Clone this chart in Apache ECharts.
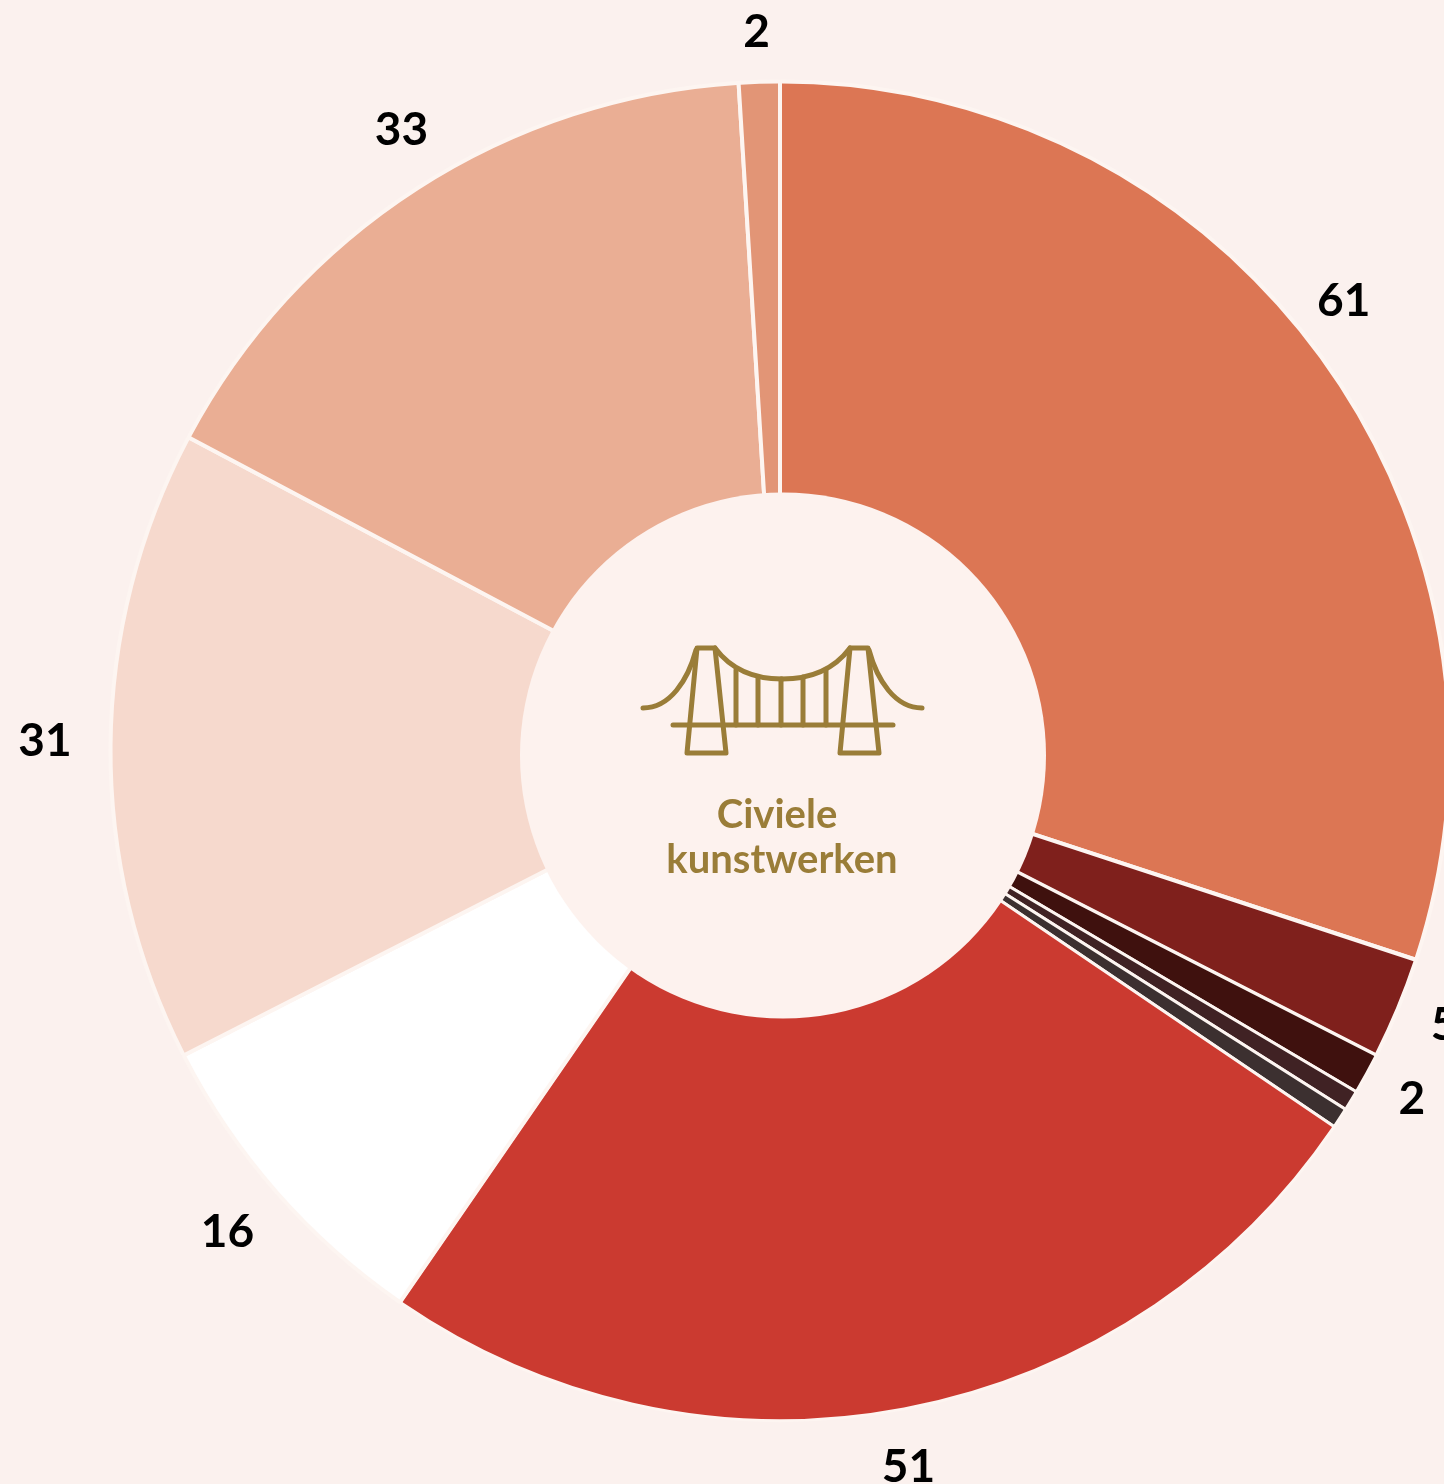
<!DOCTYPE html>
<html>
<head>
<meta charset="utf-8">
<title>Civiele kunstwerken</title>
<script src="https://cdn.jsdelivr.net/npm/echarts@6/dist/echarts.min.js"></script>
<style>
    html, body { margin: 0; padding: 0; background: #fbf1ee; }
    #chart { width: 1444px; height: 1484px; }
</style>
</head>
<body>
<div id="chart"></div>
<script>
// Data, clockwise from 12 o'clock
var sliceValues = [61, 5, 2, 1, 1, 51, 16, 31, 33, 2];
var sliceColors = ['#dc7654', '#7f201c', '#3f110e', '#402224', '#3c3030', '#cb3a30', '#ffffff', '#f6d9cd', '#eaae94', '#e29576'];
var hiddenLabels = [3, 4];
var centerLines = ['Civiele', 'kunstwerken'];

var FONT = 'Lato, "Noto Sans", sans-serif';
var GOLD = '#9a7d38';

// Nudges for labels that sit off their mid angle in the source
var labelNudges = {
    0: [-20, -22],
    1: [-2, -5],
    2: [0, -2],
    5: [0, 2],
    6: [1, 2],
    7: [-1, -3],
    8: [22, -8],
    9: [5, 10]
};

// The narrow slices get a thinner gap, otherwise they all but vanish
var narrowGapSlices = [2, 3, 4, 5];

var iconStyle = { fill: 'none', stroke: GOLD, lineWidth: 5, lineCap: 'round', lineJoin: 'round' };

// Bridge icon, built from plain graphic elements
function iconLine(x1, y1, x2, y2) {
    return { type: 'line', shape: { x1: x1, y1: y1, x2: x2, y2: y2 }, style: iconStyle };
}
function iconCurve(x1, y1, cpx1, cpy1, cpx2, cpy2, x2, y2) {
    return {
        type: 'bezierCurve',
        shape: { x1: x1, y1: y1, cpx1: cpx1, cpy1: cpy1, cpx2: cpx2, cpy2: cpy2, x2: x2, y2: y2 },
        style: iconStyle
    };
}
function iconTower(points) {
    return { type: 'polygon', shape: { points: points }, style: iconStyle };
}

var bridgeIcon = [
    iconTower([[697, 648], [715, 648], [726, 753], [687, 753]]),
    iconTower([[850, 648], [868, 648], [879, 753], [840, 753]]),
    iconLine(673, 725, 893, 725),
    iconCurve(715, 648, 733, 672, 758, 679, 782, 679),
    iconCurve(782, 679, 806, 679, 832, 672, 850, 648),
    iconCurve(696, 650, 688, 680, 670, 708, 643, 708),
    iconCurve(869, 650, 877, 680, 895, 708, 922, 708),
    iconLine(736, 670, 736, 725),
    iconLine(758, 677, 758, 725),
    iconLine(781, 679, 781, 725),
    iconLine(803, 677, 803, 725),
    iconLine(826, 670, 826, 725)
];

var centerElements = [
    {
        type: 'circle',
        shape: { cx: 783, cy: 755.5, r: 263 },
        style: { fill: '#fdf2ee' }
    },
    {
        type: 'text',
        x: 777, y: 815,
        style: { text: centerLines[0], fill: GOLD, font: 'bold 40px ' + FONT, textAlign: 'center', textVerticalAlign: 'middle' }
    },
    {
        type: 'text',
        x: 782, y: 860,
        style: { text: centerLines[1], fill: GOLD, font: 'bold 40px ' + FONT, textAlign: 'center', textVerticalAlign: 'middle' }
    }
].concat(bridgeIcon);

// Keep the centre above the pie series
centerElements.forEach(function(el, i) {
    el.z = 10 + i;
    el.silent = true;
});

var chart = echarts.init(document.getElementById('chart'));

chart.setOption({
    backgroundColor: '#fbf1ee',
    animation: false,
    series: [
        // Slices
        {
            type: 'pie',
            center: [780, 751],
            radius: [230, 669.5],
            startAngle: 90,
            silent: true,
            label: { show: false },
            labelLine: { show: false },
            itemStyle: { borderColor: '#fdf5f1', borderWidth: 4, borderRadius: 2 },
            data: sliceValues.map(function(v, i) {
                var style = { color: sliceColors[i] };
                if (narrowGapSlices.indexOf(i) >= 0) style.borderWidth = 3;
                return { value: v, itemStyle: style };
            })
        },
        // Transparent ring that only carries the value labels
        {
            type: 'pie',
            center: [774, 750],
            radius: [705, 745],
            startAngle: 90,
            silent: true,
            avoidLabelOverlap: false,
            itemStyle: { color: 'transparent' },
            label: {
                position: 'inside',
                formatter: '{c}',
                color: '#000',
                fontFamily: FONT,
                fontWeight: 'bold',
                fontSize: 46,
                overflow: 'none'
            },
            labelLine: { show: false },
            data: sliceValues.map(function(v, i) {
                var item = { value: v, label: { show: hiddenLabels.indexOf(i) < 0 } };
                if (labelNudges[i]) item.label.offset = labelNudges[i];
                return item;
            })
        }
    ],
    graphic: centerElements
});
</script>
</body>
</html>
